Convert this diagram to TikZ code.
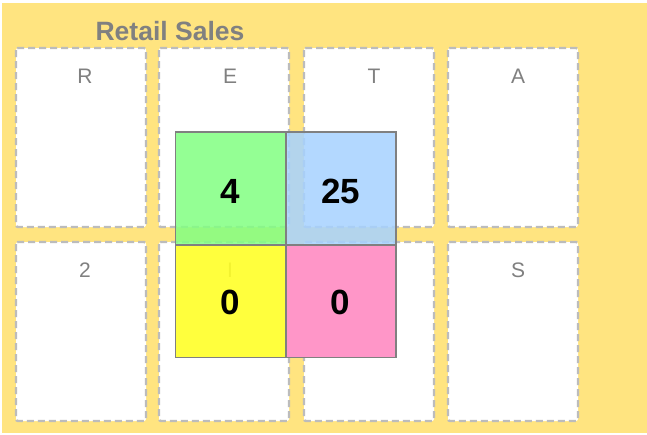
\documentclass[tikz,border=0pt]{standalone}
\usepackage{fontspec}
\setmainfont{Liberation Sans}
\definecolor{bgyellow}{RGB}{255,228,128}
\definecolor{dashgray}{RGB}{188,188,188}
\definecolor{labgray}{RGB}{128,128,128}
\definecolor{cgreen}{RGB}{130,255,130}
\definecolor{cblue}{RGB}{166,210,255}
\definecolor{cyellow}{RGB}{255,255,40}
\definecolor{cpink}{RGB}{255,150,200}
\begin{document}
\begin{tikzpicture}[x=1pt,y=-1pt,
  slot/.style={draw=dashgray,fill=white,line width=2.4pt,dash pattern=on 7pt off 4pt,rounded corners=2pt},
  letter/.style={text=labgray,font=\fontsize{21}{21}\selectfont,anchor=center,inner sep=0pt},
  cell/.style={draw=labgray,line width=1.5pt,fill opacity=0.85},
  num/.style={font=\fontsize{35}{35}\selectfont\bfseries,text=black,anchor=center,inner sep=0pt}]
\useasboundingbox (0,0) rectangle (647,434);
\fill[bgyellow] (2,3) rectangle (647,433);
\node[text=labgray,font=\fontsize{26.5}{26.5}\selectfont\bfseries,inner sep=0pt] (title) at (170,31) {Retail Sales};
% slots
\foreach \n/\x in {1/16,2/159,3/304,4/448}{
  \draw[slot] (\x,48) rectangle ++(130,179);
  \draw[slot] (\x,242) rectangle ++(130,179);
}
\node[letter] (lR) at (85,76) {R};
\node[letter] (lE) at (230,76) {E};
\node[letter] (lT) at (374,76) {T};
\node[letter] (lA) at (518,76) {A};
\node[letter] (l2) at (85,270) {2};
\node[letter] (lI) at (230,270) {I};
\node[letter] (lS) at (518,270) {S};
% cells
\filldraw[cell,fill=cgreen] (175.5,132) rectangle (286,245);
\filldraw[cell,fill=cblue] (286,132) rectangle (396,245);
\filldraw[cell,fill=cyellow,fill opacity=0.9] (175.5,245) rectangle (286,357.5);
\filldraw[cell,fill=cpink,fill opacity=1] (286,245) rectangle (396,357.5);
\node[num] (n1) at (230.5,191) {4};
\node[num] (n2) at (340.5,191) {25};
\node[num] (n3) at (230.5,302) {0};
\node[num] (n4) at (340.5,302) {0};
\end{tikzpicture}
\end{document}
